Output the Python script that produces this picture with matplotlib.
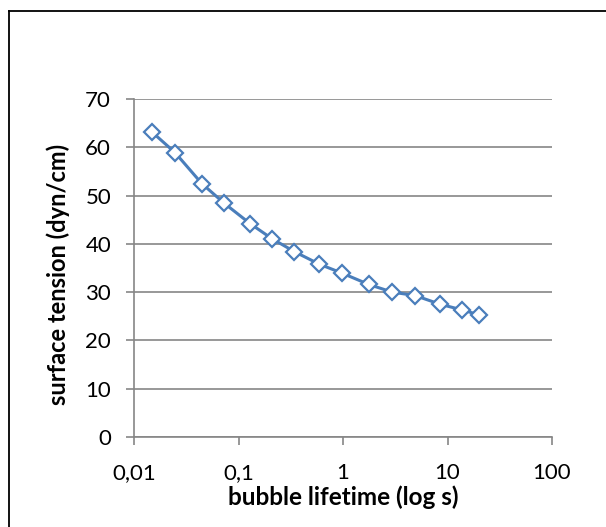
import numpy as np
import matplotlib
matplotlib.use("Agg")
import matplotlib.pyplot as plt
from matplotlib.lines import Line2D
from matplotlib.ticker import FixedLocator, NullLocator

# bubble lifetime (s) and surface tension (dyn/cm)
lifetime = [0.0148, 0.0247, 0.0445, 0.0731, 0.129, 0.208, 0.342, 0.592,
            0.989, 1.76, 2.96, 4.89, 8.48, 13.9, 20.0]
tension = [63.2, 58.9, 52.5, 48.4, 44.2, 41.1, 38.4, 35.8,
           33.9, 31.6, 30.0, 29.3, 27.5, 26.3, 25.3]

x_ticks = [0.01, 0.1, 1, 10, 100]
x_labels = ['0,01', '0,1', '1', '10', '100']
y_ticks = [0, 10, 20, 30, 40, 50, 60, 70]

plt.rcParams['font.family'] = ['Lato', 'DejaVu Sans']
grey = '#868686'
blue = '#4A7EBB'

fig = plt.figure(figsize=(6.06, 5.27), dpi=100)
ax = fig.add_axes([134 / 606, 1 - 437 / 527, 418 / 606, 338 / 527])

ax.plot(lifetime, tension, color=blue, lw=2.2, marker='D', ms=8.5,
        mfc='white', mec=blue, mew=1.6, zorder=3)

ax.set_xscale('log')
ax.set_xlim(0.01, 100)
ax.set_ylim(0, 70)
ax.xaxis.set_major_locator(FixedLocator(x_ticks))
ax.xaxis.set_minor_locator(NullLocator())
ax.set_xticklabels(x_labels)
ax.set_yticks(y_ticks)

ax.yaxis.grid(True, color=grey, lw=1.2)
ax.set_axisbelow(True)
for side in ['top', 'right']:
    ax.spines[side].set_visible(False)
for side in ['left', 'bottom']:
    ax.spines[side].set_color(grey)
    ax.spines[side].set_linewidth(1.2)
ax.tick_params(axis='both', color=grey, width=1.2, length=5.5,
               labelsize=16, labelcolor='black')
ax.tick_params(axis='x', pad=13)
ax.tick_params(axis='y', pad=11)

ax.set_xlabel('bubble lifetime (log s)', fontsize=17.5, fontweight='bold')
ax.set_ylabel('surface tension (dyn/cm)', fontsize=17, fontweight='bold')
ax.xaxis.set_label_coords(0.5, -(497 - 437) / 338)
ax.yaxis.set_label_coords(-(134 - 58) / 418, (437 - 274) / 338)
ax.xaxis.label.set_va('center')
ax.yaxis.label.set_va('center')

# outer chart frame (top and left edges visible)
fig.add_artist(Line2D([9 / 606, 9 / 606], [0, 1 - 11 / 527], color='black', lw=1.3))
fig.add_artist(Line2D([9 / 606, 1], [1 - 11 / 527, 1 - 11 / 527], color='black', lw=1.3))

fig.savefig('out.png', dpi=100)
